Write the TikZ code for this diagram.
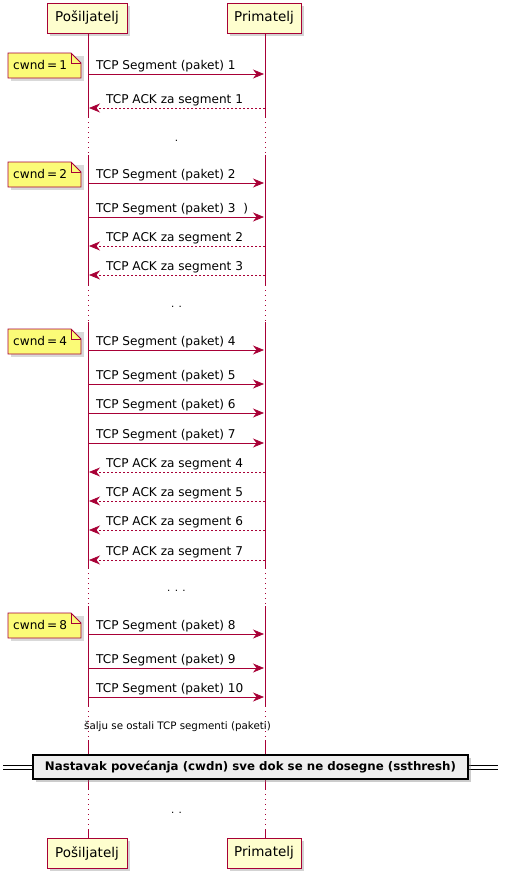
\documentclass[tikz,border=0pt]{standalone}
\usepackage{fontspec}
\setmainfont{DejaVu Sans}
\usetikzlibrary{arrows.meta,shadows}
\definecolor{pline}{HTML}{A80036}
\definecolor{pfill}{HTML}{FEFECE}
\definecolor{nfill}{HTML}{FBFB77}
\definecolor{dfill}{HTML}{EEEEEE}
\tikzset{
  part/.style={draw=pline,fill=pfill,line width=1pt,minimum height=30pt,inner sep=0pt,
    font=\fontsize{13.5}{15}\selectfont,drop shadow={opacity=0.35,shadow xshift=3pt,shadow yshift=-3pt}},
  lifesolid/.style={draw=pline,line width=0.8pt},
  lifedot/.style={draw=pline,line width=0.8pt,dash pattern=on 1pt off 4pt},
  msg/.style={draw=pline,line width=0.8pt,-{Stealth[length=11pt,width=9pt,inset=3.5pt]}},
  ack/.style={msg,dash pattern=on 2pt off 2pt},
  mlabel/.style={anchor=base west,inner sep=0pt,font=\fontsize{12.1}{14}\selectfont},
  delay/.style={anchor=base,inner sep=0pt,font=\fontsize{10.3}{12}\selectfont},
  notetext/.style={anchor=base west,inner sep=0pt,font=\fontsize{12.1}{14}\selectfont},
}
\newcommand{\cwndnote}[3]{% name, arrow y, text
  \fill[gray,opacity=0.3] (11,#2-18) -- (84,#2-18) -- (84,#2+7) -- (11,#2+7) -- cycle;
  \draw[pline,fill=nfill,line width=0.8pt] (8,#2-21) -- (71,#2-21) -- (81,#2-11) -- (81,#2+4) -- (8,#2+4) -- cycle;
  \draw[pline,line width=0.8pt] (71,#2-21) -- (71,#2-11) -- (81,#2-11);
  \node[notetext] (#1) at (13,#2-4.5) {#3};
}
\begin{document}
\begin{tikzpicture}[x=1pt,y=-1pt]
\useasboundingbox (0,0) rectangle (510,879);
% participants
\node[part,minimum width=80pt] (sTop) at (87,18) {Pošiljatelj};
\node[part,minimum width=74pt] (rTop) at (264,18) {Primatelj};
\node[part,minimum width=80pt] (sBot) at (87,853) {Pošiljatelj};
\node[part,minimum width=74pt] (rBot) at (264,853) {Primatelj};
% lifelines
\foreach \x in {88,265}{
  \draw[lifesolid] (\x,33) -- (\x,117);
  \draw[lifedot] (\x,117) -- (\x,155);
  \draw[lifesolid] (\x,155) -- (\x,285);
  \draw[lifedot] (\x,285) -- (\x,322);
  \draw[lifesolid] (\x,322) -- (\x,568);
  \draw[lifedot] (\x,568) -- (\x,606);
  \draw[lifesolid] (\x,606) -- (\x,706);
  \draw[lifedot] (\x,706) -- (\x,740);
  \draw[lifesolid] (\x,740) -- (\x,756);
  \draw[lifesolid] (\x,779) -- (\x,789);
  \draw[lifedot] (\x,789) -- (\x,830);
  \draw[lifesolid] (\x,830) -- (\x,838);
}
% messages
\foreach \n/\y/\txt in {m1/74/{TCP Segment (paket) 1},m2/183/{TCP Segment (paket) 2},m3/217/{TCP Segment (paket) 3\ \ )},
  m4/350/{TCP Segment (paket) 4},m5/384/{TCP Segment (paket) 5},m6/413/{TCP Segment (paket) 6},m7/443/{TCP Segment (paket) 7},
  m8/634/{TCP Segment (paket) 8},m9/668/{TCP Segment (paket) 9},m10/697/{TCP Segment (paket) 10}}{
  \coordinate (\n s) at (88,\y);
  \coordinate (\n r) at (264,\y);
  \draw[msg] (\n s) -- (\n r);
  \node[mlabel] (\n l) at (96,\y-5) {\txt};
}
\foreach \n/\y/\txt in {a1/108/{TCP ACK za segment 1},a2/246/{TCP ACK za segment 2},a3/275/{TCP ACK za segment 3},
  a4/472/{TCP ACK za segment 4},a5/501/{TCP ACK za segment 5},a6/530/{TCP ACK za segment 6},a7/560/{TCP ACK za segment 7}}{
  \coordinate (\n r) at (265,\y);
  \coordinate (\n s) at (89,\y);
  \draw[ack] (\n r) -- (\n s);
  \node[mlabel] (\n l) at (106,\y-5) {\txt};
}
% notes
\cwndnote{n1}{74}{cwnd\,=\,1}
\cwndnote{n2}{183}{cwnd\,=\,2}
\cwndnote{n4}{350}{cwnd\,=\,4}
\cwndnote{n8}{634}{cwnd\,=\,8}
% delays
\node[delay] (d1) at (176.5,141) {.};
\node[delay] (d2) at (176.5,307) {. .};
\node[delay] (d3) at (176.5,591) {. . .};
\node[delay] (d4) at (177.5,729) {šalju se ostali TCP segmenti (paketi)};
\node[delay] (d5) at (176.5,813) {. .};
% divider
\draw[line width=0.8pt] (3,765.5) -- (33,765.5);
\draw[line width=0.8pt] (3,769) -- (33,769);
\draw[line width=0.8pt] (468,765.5) -- (498,765.5);
\draw[line width=0.8pt] (468,769) -- (498,769);
\node[draw=black,fill=dfill,line width=1.5pt,minimum width=435pt,minimum height=24pt,inner sep=0pt,
  drop shadow={opacity=0.4,shadow xshift=3pt,shadow yshift=-3pt},
  font=\bfseries\fontsize{11.8}{14}\selectfont] (div) at (250.5,767) {Nastavak povećanja (cwdn) sve dok se ne dosegne (ssthresh)};
\end{tikzpicture}
\end{document}
